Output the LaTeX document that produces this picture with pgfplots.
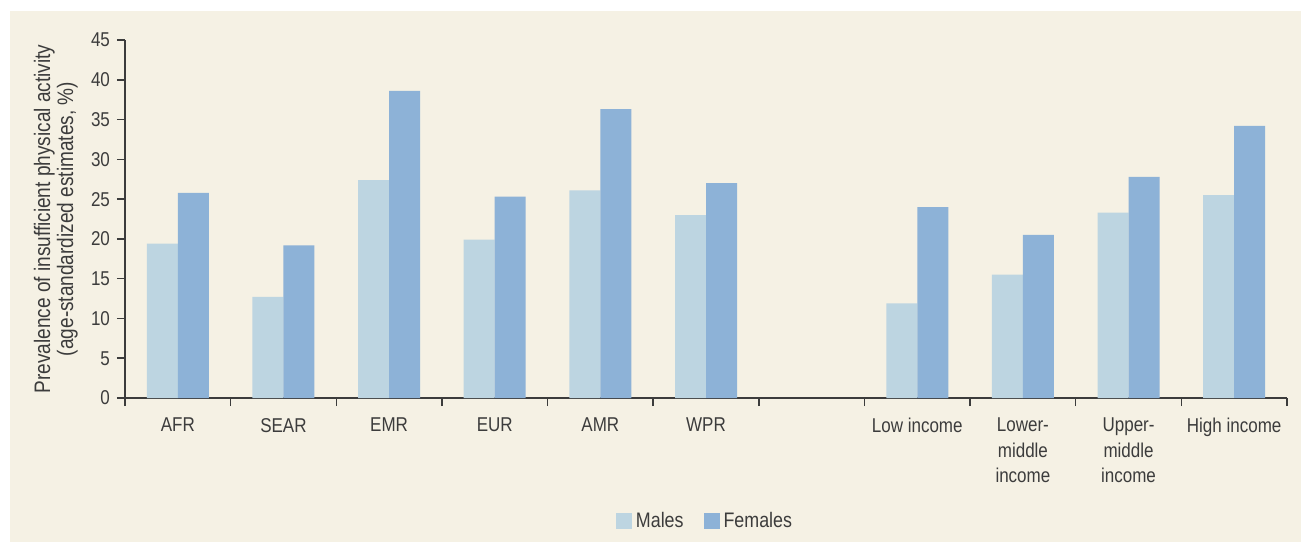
\documentclass[border=0pt]{standalone}
\usepackage{pgfplots}
\pgfplotsset{compat=1.18}
\usepackage{fontspec}
\setmainfont{Liberation Sans}[FakeStretch=0.85]
\definecolor{bgbeige}{RGB}{245,241,228}
\definecolor{males}{RGB}{189,213,225}
\definecolor{females}{RGB}{141,178,215}
\definecolor{ink}{RGB}{60,60,60}

\begin{document}
\begin{tikzpicture}
\path[use as bounding box, fill=white] (0pt,0pt) rectangle (650.5pt,271pt);
\fill[bgbeige] (5pt,0pt) rectangle (650.5pt,265.5pt);
\begin{axis}[
  at={(62.5pt,72pt)}, anchor=south west,
  width=581pt, height=179pt, scale only axis,
  xmin=-0.5, xmax=10.5, ymin=0, ymax=45,
  enlargelimits=false,
  ybar=0pt, bar width=15.5pt,
  axis lines*=left,
  axis line style={draw=ink, line width=0.75pt},
  tick style={draw=ink, line width=0.75pt},
  tick align=outside,
  major tick length=4pt,
  xtick={-0.5,0.5,...,10.5},
  x tick label as interval,
  xticklabels={AFR,SEAR,EMR,EUR,AMR,WPR,{},Low income,{Lower-\\middle\\income},{Upper-\\middle\\income},High income},
  xticklabel style={align=center, text=ink, yshift=-2.5pt, font=\fontsize{10}{12.75}\selectfont},
  ytick={0,5,...,45},
  yticklabel style={text=ink, font=\fontsize{10}{11}\selectfont},
  /pgf/number format/assume math mode=true,
  ylabel={Prevalence of insufficient physical activity\\(age-standardized estimates, \%)},
  ylabel style={at={(axis description cs:-0.0595,0.5)}, anchor=center, align=center, text=ink, font=\fontsize{11.2}{11.5}\selectfont},
  legend columns=2,
  legend style={draw=none, fill=none, at={(axis description cs:0.5,-0.3436)}, anchor=center,
    text=ink, font=\fontsize{10.5}{12}\selectfont,
    /tikz/every even column/.append style={column sep=8pt}},
  legend image code/.code={\fill[#1] (0pt,-4pt) rectangle (8pt,4pt);},
]
\addplot[fill=males, draw=none] coordinates {
  (0,19.4) (1,12.7) (2,27.4) (3,19.9) (4,26.1) (5,23.0)
  (7,11.9) (8,15.5) (9,23.3) (10,25.5)
};
\addplot[fill=females, draw=none] coordinates {
  (0,25.8) (1,19.2) (2,38.6) (3,25.3) (4,36.3) (5,27.0)
  (7,24.0) (8,20.5) (9,27.8) (10,34.2)
};
\legend{Males,Females}
\end{axis}
\end{tikzpicture}
\end{document}
